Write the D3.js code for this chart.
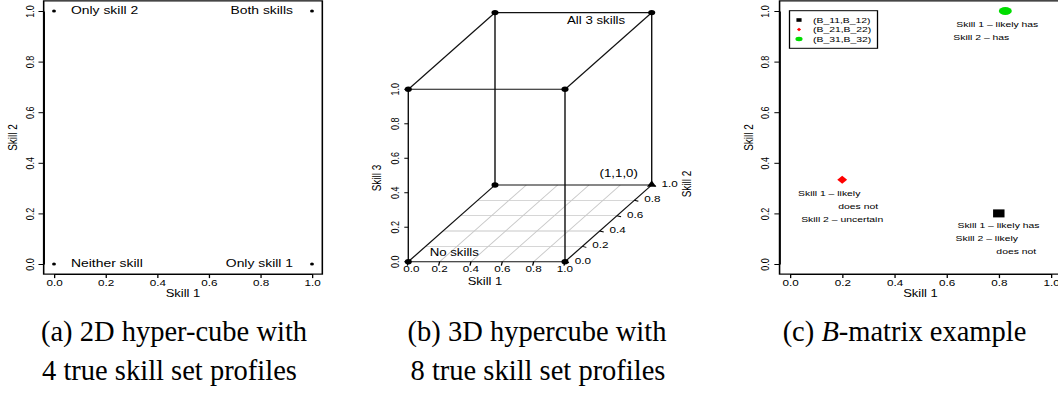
<!DOCTYPE html>
<html><head><meta charset="utf-8">
<script src="https://cdn.jsdelivr.net/npm/d3@7"></script>
<style>
body{margin:0;background:#fff}
svg text{font-family:"Liberation Sans",Arial,Helvetica,sans-serif;fill:#000}
svg text.cap{font-family:"Liberation Serif","Times New Roman",serif}
</style>
</head><body>
<svg id="chart" width="1058" height="393"></svg>
<script>
// ---------------- data ----------------
const axisTicks = [0, 0.2, 0.4, 0.6, 0.8, 1.0];
const axisTickLabels = ["0.0", "0.2", "0.4", "0.6", "0.8", "1.0"];

// (a) 2D hyper-cube
const profileSkill1 = [0, 1, 0, 1];
const profileSkill2 = [0, 0, 1, 1];
const profileLabels = ["Neither skill", "Only skill 1", "Only skill 2", "Both skills"];

// (b) 3D hypercube
const cubeSkill1 = [0, 1, 0, 1, 0, 1, 0, 1];
const cubeSkill2 = [0, 0, 1, 1, 0, 0, 1, 1];
const cubeSkill3 = [0, 0, 0, 0, 1, 1, 1, 1];
const cubeMarkers = ["circle", "circle", "circle", "triangle", "circle", "circle", "circle", "circle"];
const cubeLabels = ["No skills", "", "", "(1,1,0)", "", "", "", "All 3 skills"];
const floorGrid = [0.2, 0.4, 0.6, 0.8];

// (c) B-matrix example
const bSkill1 = [0.8, 0.2, 0.825];
const bSkill2 = [0.2, 0.333, 1.0];
const bNames = ["(B_11,B_12)", "(B_21,B_22)", "(B_31,B_32)"];
const bColors = ["#000000", "#ff0000", "#00dd00"];
const bMarkers = ["square", "diamond", "circle"];
const bNotes = [
  ["Skill 1 \u2013 likely has", "Skill 2 \u2013 likely", "does not"],
  ["Skill 1 \u2013 likely", "does not", "Skill 2 \u2013 uncertain"],
  ["Skill 1 \u2013 likely has", "Skill 2 \u2013 has"]
];

const captionA = ["(a) 2D hyper-cube with", "4 true skill set profiles"];
const captionB = ["(b) 3D hypercube with", "8 true skill set profiles"];

// ---------------- layout ----------------
const SX = 1.3;          // horizontal stretch of the figure panels
const TICKFS = 9, TITLEFS = 10;
const svg = d3.select("#chart");

function styleAxis(sel) {
  sel.selectAll("path.domain").attr("stroke", "#000").attr("stroke-width", 1);
  sel.selectAll(".tick line").attr("stroke", "#000").attr("stroke-width", 1);
  sel.selectAll(".tick text").attr("font-size", TICKFS).attr("font-family", null).attr("fill", "#000");
}

function scatterFrame(g, x, y, titleX, titleY) {
  const x0 = x(-0.04), x1 = x(1.04), y0 = y(-0.04), y1 = y(1.04);
  g.append("rect").attr("x", x0).attr("y", y1).attr("width", x1 - x0).attr("height", y0 - y1)
    .attr("fill", "none").attr("stroke", "#000").attr("stroke-width", 1.2);
  const ax = g.append("g").attr("transform", `translate(0,${y0})`)
    .call(d3.axisBottom(x).tickValues(axisTicks).tickFormat((d, i) => axisTickLabels[i])
      .tickSize(4).tickSizeOuter(0).tickPadding(1.5));
  styleAxis(ax);
  ax.attr("font-size", null).attr("font-family", null);
  const ay = g.append("g").attr("transform", `translate(${x0},0)`)
    .call(d3.axisLeft(y).tickValues(axisTicks).tickFormat((d, i) => axisTickLabels[i])
      .tickSize(4).tickSizeOuter(0));
  styleAxis(ay);
  ay.attr("font-size", null).attr("font-family", null);
  ay.selectAll(".tick text").attr("x", null).attr("dy", null).attr("text-anchor", "middle")
    .attr("dominant-baseline", "central")
    .attr("transform", `translate(${-14 / SX},0) rotate(-90)`);
  g.append("text").attr("x", (x(0) + x(1)) / 2).attr("y", 293.5).attr("text-anchor", "middle")
    .attr("dominant-baseline", "central").attr("font-size", TITLEFS).text(titleX);
  g.append("text").attr("transform", `translate(${x0 - 31 / SX},${(y(0) + y(1)) / 2}) rotate(-90)`)
    .attr("text-anchor", "middle").attr("dominant-baseline", "central")
    .attr("font-size", TITLEFS).text(titleY);
}

// ---------------- panel (a) ----------------
{
  const g = svg.append("g").attr("transform", `scale(${SX},1)`);
  const x = d3.scaleLinear().domain([0, 1]).range([54 / SX, 312 / SX]);
  const y = d3.scaleLinear().domain([0, 1]).range([264, 11]);
  scatterFrame(g, x, y, "Skill 1", "Skill 2");
  profileSkill1.forEach((s1, i) => {
    g.append("circle").attr("cx", x(s1)).attr("cy", y(profileSkill2[i])).attr("r", 1.5).attr("fill", "#000");
    const left = s1 === 0;
    g.append("text").attr("x", x(s1) + (left ? 17 : -19) / SX).attr("y", y(profileSkill2[i]))
      .attr("text-anchor", left ? "start" : "end").attr("dominant-baseline", "central")
      .attr("font-size", 10.7).text(profileLabels[i]);
  });
}

// ---------------- panel (b) ----------------
{
  const g = svg.append("g").attr("transform", `scale(${SX},1)`);
  const ox = 408.3 / SX, oy = 261.7;
  const s1x = d3.scaleLinear().domain([0, 1]).range([0, 156.7 / SX]);
  const s2x = d3.scaleLinear().domain([0, 1]).range([0, 86.7 / SX]);
  const s2y = d3.scaleLinear().domain([0, 1]).range([0, -76.7]);
  const s3y = d3.scaleLinear().domain([0, 1]).range([0, -172.4]);
  const P = (a, b, c) => [ox + s1x(a) + s2x(b), oy + s2y(b) + s3y(c)];
  const line = d3.line();

  // floor grid
  floorGrid.forEach(v => {
    g.append("path").attr("d", line([P(v, 0, 0), P(v, 1, 0)])).attr("stroke", "#c8c8c8").attr("stroke-width", 0.8).attr("fill", "none");
    g.append("path").attr("d", line([P(0, v, 0), P(1, v, 0)])).attr("stroke", "#c8c8c8").attr("stroke-width", 0.8).attr("fill", "none");
  });
  // cube edges
  for (let i = 0; i < 8; i++) for (let j = i + 1; j < 8; j++) {
    const d = Math.abs(cubeSkill1[i] - cubeSkill1[j]) + Math.abs(cubeSkill2[i] - cubeSkill2[j]) + Math.abs(cubeSkill3[i] - cubeSkill3[j]);
    if (d === 1) g.append("path")
      .attr("d", line([P(cubeSkill1[i], cubeSkill2[i], cubeSkill3[i]), P(cubeSkill1[j], cubeSkill2[j], cubeSkill3[j])]))
      .attr("stroke", "#111").attr("stroke-width", 1.1).attr("fill", "none");
  }
  // ticks skill 1
  axisTicks.forEach((t, i) => {
    const [px, py] = P(t, 0, 0);
    g.append("line").attr("x1", px).attr("x2", px - 1 / SX).attr("y1", py).attr("y2", py + 4).attr("stroke", "#000");
    g.append("text").attr("x", px + (i === 0 ? 3 / SX : 0)).attr("y", 269).attr("text-anchor", "middle")
      .attr("dominant-baseline", "central").attr("font-size", TICKFS).text(axisTickLabels[i]);
  });
  // ticks skill 3
  axisTicks.forEach((t, i) => {
    const [px, py] = P(0, 0, t);
    g.append("line").attr("x1", px).attr("x2", px - 4 / SX).attr("y1", py).attr("y2", py).attr("stroke", "#000");
    g.append("text").attr("transform", `translate(${px - 13.5 / SX},${py}) rotate(-90)`).attr("text-anchor", "middle")
      .attr("dominant-baseline", "central").attr("font-size", TICKFS).text(axisTickLabels[i]);
  });
  // ticks skill 2
  axisTicks.forEach((t, i) => {
    const [px, py] = P(1, t, 0);
    g.append("line").attr("x1", px).attr("x2", px + 4 / SX).attr("y1", py).attr("y2", py + 1).attr("stroke", "#000");
    g.append("text").attr("x", px + 18 / SX).attr("y", py - 1).attr("text-anchor", "middle")
      .attr("dominant-baseline", "central").attr("font-size", TICKFS).text(axisTickLabels[i]);
  });
  // axis titles
  g.append("text").attr("x", 485 / SX).attr("y", 281.7).attr("text-anchor", "middle")
    .attr("dominant-baseline", "central").attr("font-size", TITLEFS).text("Skill 1");
  g.append("text").attr("transform", `translate(${377 / SX},178) rotate(-90)`).attr("text-anchor", "middle")
    .attr("dominant-baseline", "central").attr("font-size", TITLEFS).text("Skill 3");
  g.append("text").attr("transform", `translate(${687 / SX},184) rotate(-90)`).attr("text-anchor", "middle")
    .attr("dominant-baseline", "central").attr("font-size", TITLEFS).text("Skill 2");
  // vertices
  cubeSkill1.forEach((s1, i) => {
    const [px, py] = P(s1, cubeSkill2[i], cubeSkill3[i]);
    if (cubeMarkers[i] === "triangle") {
      g.append("path").attr("d", `M${px},${py - 4.5}L${px + 3.6},${py + 1.8}L${px - 3.6},${py + 1.8}Z`).attr("fill", "#000");
    } else {
      g.append("circle").attr("cx", px).attr("cy", py).attr("r", 2.7).attr("fill", "#000");
    }
  });
  // vertex labels (offsets in screen px)
  const labelOffsets = {0: [46, -8.7], 3: [-33, -11], 7: [-55.6, 8]};
  cubeLabels.forEach((txt, i) => {
    if (!txt) return;
    const [px, py] = P(cubeSkill1[i], cubeSkill2[i], cubeSkill3[i]);
    const o = labelOffsets[i];
    g.append("text").attr("x", px + o[0] / SX).attr("y", py + o[1]).attr("text-anchor", "middle")
      .attr("dominant-baseline", "central").attr("font-size", 10.2).text(txt);
  });
}

// ---------------- panel (c) ----------------
{
  const g = svg.append("g").attr("transform", `scale(${SX},1)`);
  const x = d3.scaleLinear().domain([0, 1]).range([790 / SX, 1051 / SX]);
  const y = d3.scaleLinear().domain([0, 1]).range([264, 11]);
  scatterFrame(g, x, y, "Skill 1", "Skill 2");

  const drawMarker = (sel, type, cx, cy, k, color) => {
    if (type === "square") sel.append("rect").attr("x", cx - 4.4 * k).attr("y", cy - 4 * k).attr("width", 8.8 * k).attr("height", 8 * k).attr("fill", color);
    else if (type === "diamond") sel.append("path").attr("d", `M${cx},${cy - 4 * k}L${cx + 3.8 * k},${cy}L${cx},${cy + 4 * k}L${cx - 3.8 * k},${cy}Z`).attr("fill", color);
    else sel.append("ellipse").attr("cx", cx).attr("cy", cy).attr("rx", 5 * k).attr("ry", 4 * k).attr("fill", color);
  };
  bSkill1.forEach((s1, i) => drawMarker(g, bMarkers[i], x(s1), y(bSkill2[i]), 1, bColors[i]));

  // annotation offsets (screen px, relative to point)
  const noteOffsets = [
    [[-0.3, 12.3], [-12, 25.3], [17.5, 37.7]],
    [[-13, 13.7], [16, 27], [0, 39.3]],
    [[-8, 13], [-24, 26]]
  ];
  bNotes.forEach((lines, i) => lines.forEach((t, j) => {
    g.append("text").attr("x", x(bSkill1[i]) + noteOffsets[i][j][0] / SX).attr("y", y(bSkill2[i]) + noteOffsets[i][j][1])
      .attr("text-anchor", "middle").attr("dominant-baseline", "central").attr("font-size", 8).text(t);
  }));

  // legend
  const lg = g.append("g");
  lg.append("rect").attr("x", 789.5 / SX).attr("y", 10.7).attr("width", 88 / SX).attr("height", 37.6)
    .attr("fill", "#fff").attr("stroke", "#000").attr("stroke-width", 1);
  const rowY = [20, 29.5, 39];
  const symK = [0.45, 0.42, 0.55];
  bNames.forEach((n, i) => {
    drawMarker(lg, bMarkers[i], 799 / SX, rowY[i], symK[i], bColors[i]);
    lg.append("text").attr("x", 813 / SX).attr("y", rowY[i]).attr("dominant-baseline", "central")
      .attr("font-size", 8).text(n);
  });
}

// ---------------- captions ----------------
const capFS = 28.5;
function caption(lines, cxs) {
  lines.forEach((t, i) => {
    svg.append("text").attr("class", "cap").attr("x", cxs[i]).attr("y", i === 0 ? 341 : 380)
      .attr("text-anchor", "middle").attr("font-size", capFS).text(t);
  });
}
caption(captionA, [174, 169.5]);
caption(captionB, [537, 538]);
{
  const t = svg.append("text").attr("class", "cap").attr("x", 904.5).attr("y", 341)
    .attr("text-anchor", "middle").attr("font-size", capFS);
  t.append("tspan").text("(c) ");
  t.append("tspan").attr("font-style", "italic").text("B");
  t.append("tspan").text("-matrix example");
}
</script>
</body></html>
